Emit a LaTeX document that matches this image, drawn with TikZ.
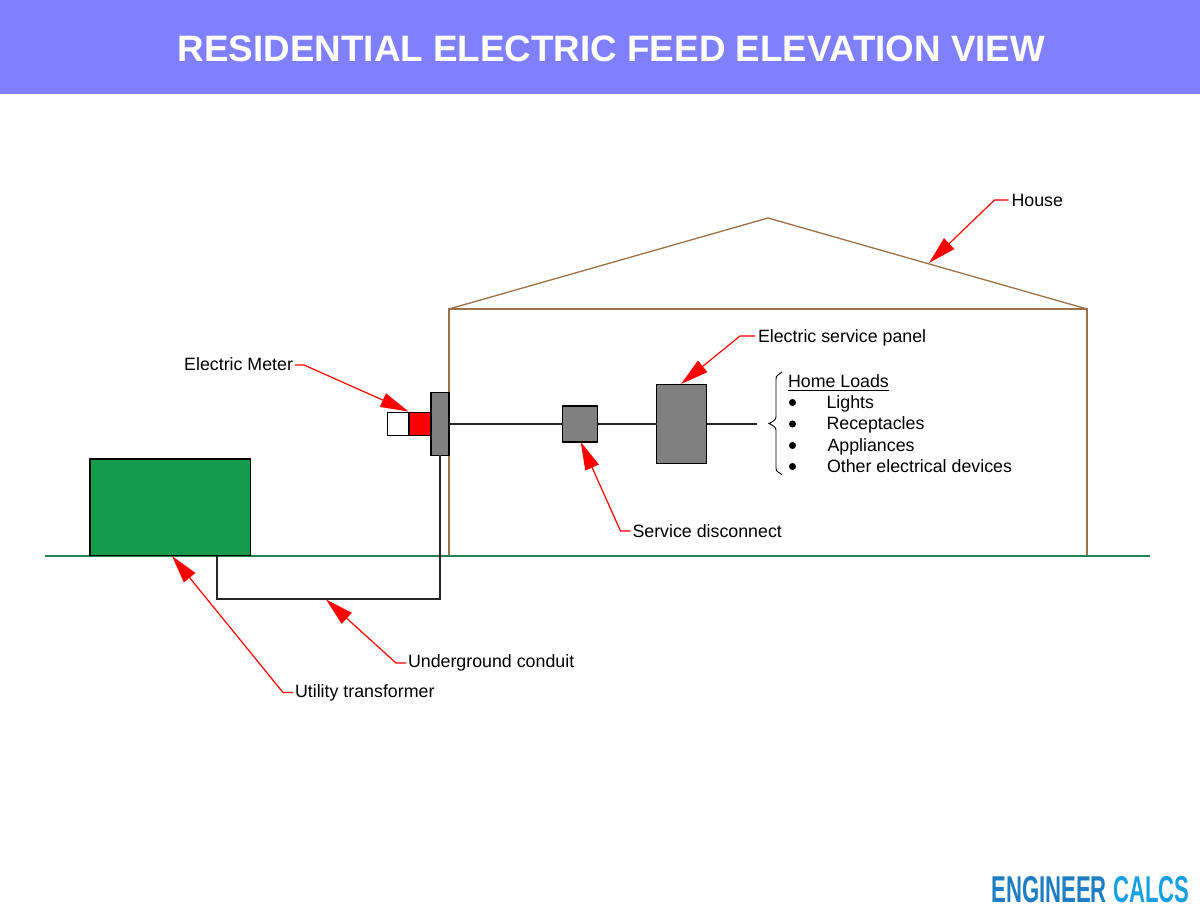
\documentclass[tikz,border=0pt]{standalone}
\usepackage{fontspec}
\setmainfont{Liberation Sans}
\usetikzlibrary{arrows.meta,calc}
\definecolor{headblue}{RGB}{128,128,255}
\definecolor{compgray}{RGB}{128,128,128}
\definecolor{tfgreen}{RGB}{20,155,75}
\definecolor{gndgreen}{RGB}{40,130,80}
\definecolor{housebrown}{RGB}{155,115,75}
\definecolor{logoA}{RGB}{30,125,195}
\definecolor{logoB}{RGB}{25,160,225}
\tikzset{
  x=0.75pt,y=-0.75pt,
  pxbox/.style={draw=black,line width=1pt,inner sep=0,outer sep=0,anchor=center},
  comp/.style={pxbox,fill=compgray},
  wire/.style={draw=black!85,line width=1.1pt},
  house/.style={draw=housebrown,line width=1pt,line join=miter},
  ground/.style={draw=gndgreen,line width=1.2pt},
  leader/.style={draw=red,line width=0.9pt,-{Triangle[length=21pt,width=11pt,red]}},
  lbl/.style={font=\fontsize{13.35}{15}\selectfont,text=black,inner sep=0,outer sep=0,anchor=west},
  dotitem/.style={circle,fill=black,draw=none,inner sep=0,outer sep=0,minimum size=5.3pt,anchor=center},
}
\begin{document}
\begin{tikzpicture}
\useasboundingbox (0,0) rectangle (1200,913);
% header
\node[fill=headblue,inner sep=0,outer sep=0,minimum width=900pt,minimum height=70.5pt,anchor=north west] (hdr) at (0,0) {};
\node[font=\bfseries\fontsize{27.6}{30}\selectfont,text=white,inner sep=0] (title) at (611.5,49) {RESIDENTIAL ELECTRIC FEED ELEVATION VIEW};
% ground and house
\draw[house] (449,555.8) -- (449,309) -- (1087,309) -- (1087,555.8);
\draw[house] (449,309) -- (768,218) -- (1087,309);
\draw[ground] (45,556) -- (1150,556);
% equipment
\node[pxbox,fill=tfgreen,minimum width=120.4pt,minimum height=72.4pt] (tf) at (170.25,507.25) {};
\node[pxbox,fill=white,minimum width=16.2pt,minimum height=17.2pt] (mw) at (398.2,424) {};
\node[pxbox,fill=red,minimum width=16.2pt,minimum height=17.2pt] (mr) at (419.8,424) {};
\node[comp,minimum width=13.5pt,minimum height=47.2pt] (mb) at (439.9,424) {};
\node[comp,minimum width=26.2pt,minimum height=27pt] (sd) at (580.2,424) {};
\node[comp,minimum width=37.5pt,minimum height=59.2pt] (sp) at (681.5,424) {};
\coordinate (loadend) at (757,424);
\coordinate (tfout) at (217,555.5);
\coordinate (cdn) at (439.9,599);
\coordinate (cdw) at (217,599);
% wires
\draw[wire] (mb.east) -- (sd.west);
\draw[wire] (sd.east) -- (sp.west);
\draw[wire] (sp.east) -- (loadend);
\draw[wire] (mb.south) -- (cdn) -- (cdw) -- (tfout);
% brace
\draw[draw=black,line width=0.7pt] (782,372) -- (778,375) .. controls (776.5,376) and (776,377) .. (776,379) -- (776,417) .. controls (776,420) and (772,422) .. (769,423.5) .. controls (772,425) and (776,427) .. (776,430) -- (776,468) .. controls (776,470) and (776.5,471) .. (778,472) -- (782,474.5);
% load list
\node[lbl] (hl) at (788,381) {Home Loads};
\draw[draw=black,line width=0.9pt] (787.5,390.7) -- (889,390.7);
\node[dotitem] (b1) at (792.5,402.5) {};
\node[dotitem] (b2) at (792.5,424) {};
\node[dotitem] (b3) at (792.5,445.5) {};
\node[dotitem] (b4) at (792.5,466.5) {};
\node[lbl] (l1) at (826.5,404) {Lights};
\node[lbl] (l2) at (826.5,424.5) {Receptacles};
\node[lbl] (l3) at (827.5,447) {Appliances};
\node[lbl] (l4) at (827,466.5) {Other electrical devices};
% labels
\node[lbl] (house) at (1011.5,200) {House};
\node[lbl] (panel) at (758,337.5) {Electric service panel};
\node[lbl,anchor=east] (meter) at (293,364) {Electric Meter};
\node[lbl] (disc) at (632.5,531) {Service disconnect};
\node[lbl] (cond) at (408,662.5) {Underground conduit};
\node[lbl] (util) at (295,692.5) {Utility transformer};
% leader tips
\coordinate (thouse) at (929,263);
\coordinate (tpanel) at (681,384);
\coordinate (tmeter) at (408.5,411.5);
\coordinate (tdisc) at (580.7,442);
\coordinate (tcond) at (326,599.5);
\coordinate (tutil) at (172,556);
\draw[leader] (house.west) ++(-3,0) -- ++(-14,0) -- (thouse);
\draw[leader] (panel.west) ++(-3,-1.5) -- ++(-15,0) -- (tpanel);
\draw[leader] (meter.east) ++(2,1) -- ++(9,0) -- (tmeter);
\draw[leader] (disc.west) ++(-2,0) -- ++(-10,0) -- (tdisc);
\draw[leader] (cond.west) ++(-2,0.5) -- ++(-10,0) -- (tcond);
\draw[leader] (util.west) ++(-2,0) -- ++(-10,0) -- (tutil);
% logo
\node[anchor=east,inner sep=0,xscale=0.593,font=\bfseries\fontsize{28}{30}\selectfont,transform shape] (logo) at (1189.5,889.5) {\textcolor{logoA}{ENGINEER} \textcolor{logoB}{CALCS}};
\end{tikzpicture}
\end{document}
